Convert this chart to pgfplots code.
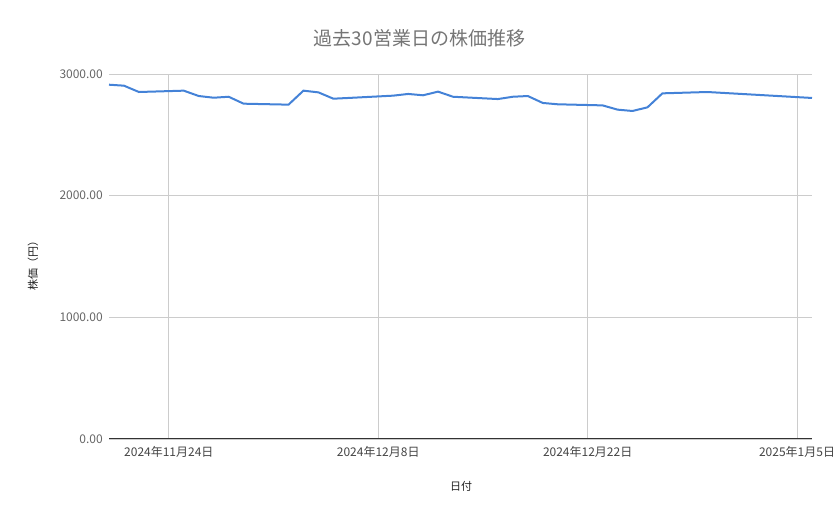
\documentclass[border=0pt]{standalone}
\usepackage{fontspec}
\setmainfont{Noto Sans CJK JP}
\usepackage{pgfplots}
\pgfplotsset{compat=1.18}
\definecolor{series}{RGB}{68,130,215}
\definecolor{gridc}{RGB}{204,204,204}
\definecolor{axisc}{RGB}{51,51,51}
\definecolor{ticky}{RGB}{102,102,102}
\definecolor{tickx}{RGB}{68,68,68}
\definecolor{titlec}{RGB}{117,117,117}
\definecolor{labelc}{RGB}{34,34,34}
\begin{document}
\begin{tikzpicture}
\useasboundingbox (0,0) rectangle (839bp,519bp);
\begin{axis}[
  at={(109bp,80bp)}, anchor=south west,
  scale only axis, width=703bp, height=365bp,
  xmin=0, xmax=47, ymin=0, ymax=3000,
  xtick={4,18,32,46},
  xticklabels={2024年11月24日,2024年12月8日,2024年12月22日,2025年1月5日},
  ytick={0,1000,2000,3000},
  yticklabel style={/pgf/number format/fixed, /pgf/number format/fixed zerofill, /pgf/number format/precision=2, /pgf/number format/1000 sep={}, /pgf/number format/assume math mode=true,
    anchor=east, inner sep=0pt, xshift=-6bp, font=\fontsize{12bp}{14bp}\selectfont, text=ticky},
  xticklabel style={anchor=center, yshift=-13bp, font=\fontsize{12bp}{14bp}\selectfont, text=tickx},
  axis lines*=left,
  x axis line style={draw=axisc, line width=1bp, -},
  y axis line style={draw=none},
  major tick length=0pt,
  grid=major,
  major grid style={draw=gridc, line width=0.8bp},
  clip=false,
]
\addplot[color=series, line width=2bp, no marks] coordinates {
(0,2912) (1,2904) (2,2852) (5,2863) (6,2819) (7,2805) (8,2813) (9,2756)
(12,2748) (13,2863) (14,2849) (15,2797) (16,2803)
(19,2822) (20,2836) (21,2825) (22,2855) (23,2813)
(26,2794) (27,2813) (28,2819) (29,2762) (30,2751)
(33,2742) (34,2707) (35,2696) (36,2726) (37,2841)
(40,2852) (47,2803)
};
\end{axis}
\node[text=titlec, font=\fontsize{19bp}{22bp}\selectfont] at (419.5bp,481bp) {過去30営業日の株価推移};
\node[text=labelc, rotate=90, font=\fontsize{11bp}{13bp}\selectfont] at (33bp,256bp) {株価（円）};
\node[text=labelc, font=\fontsize{11bp}{13bp}\selectfont] at (461bp,33bp) {日付};
\end{tikzpicture}
\end{document}
